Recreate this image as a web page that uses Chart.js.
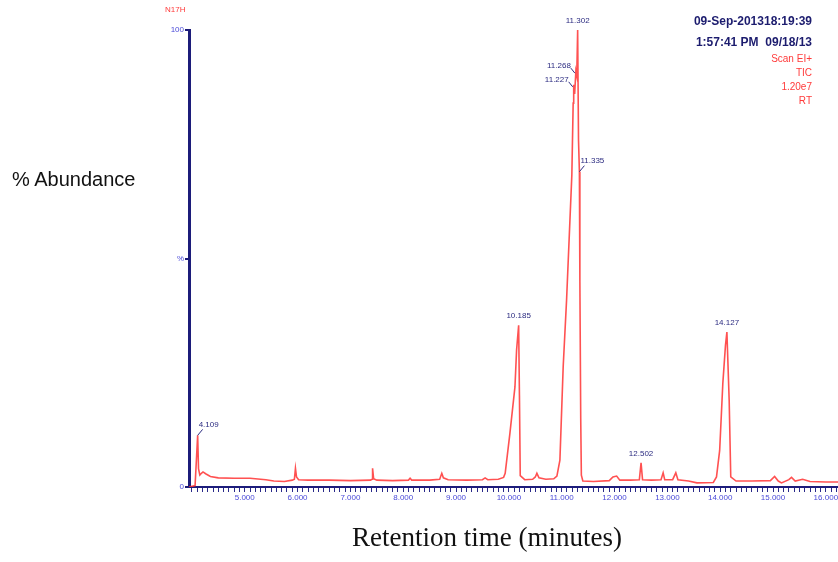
<!DOCTYPE html>
<html>
<head>
<meta charset="utf-8">
<script src="https://cdn.jsdelivr.net/npm/chart.js@4.4.1/dist/chart.umd.min.js"></script>
<style>
  body { margin: 0; background: #fff; }
  #wrap { position: relative; width: 838px; height: 562px; overflow: hidden; font-family: "Liberation Sans", Arial, sans-serif; }
  #wrap canvas { position: absolute; left: 0; top: 0; }
  .t { position: absolute; white-space: nowrap; }
  .hdr { right: 26px; color: #1c1c6e; font-weight: bold; font-size: 12px; }
  .red { right: 26px; color: #ff3a3a; font-size: 10px; }
</style>
</head>
<body>
<div id="wrap">
  <canvas id="myChart" width="838" height="562"></canvas>
  <div class="t" style="left:165px;top:5px;color:#ff3a3a;font-size:8px;">N17H</div>
  <div class="t hdr" style="top:14px;">09-Sep-201318:19:39</div>
  <div class="t hdr" style="top:35px;">1:57:41 PM&nbsp;&nbsp;09/18/13</div>
  <div class="t red" style="top:53px;">Scan EI+</div>
  <div class="t red" style="top:67px;">TIC</div>
  <div class="t red" style="top:81px;">1.20e7</div>
  <div class="t red" style="top:95px;">RT</div>
  <div class="t" style="left:12px;top:168px;font-size:20px;color:#111;">% Abundance</div>
  <div class="t" style="left:352px;top:522px;font-size:27px;color:#111;font-family:'Liberation Serif','Times New Roman',serif;">Retention time (minutes)</div>
</div>
<script>
// Datos del cromatograma (tiempo de retención en minutos, % abundancia)
const tiempos = [
  3.945, 4.06, 4.09, 4.109, 4.125, 4.15, 4.18, 4.21, 4.26, 4.35, 4.5, 4.8, 5.1, 5.4, 5.55, 5.75,
  5.9, 5.94, 5.96, 5.98, 6.02, 6.2, 6.6, 7.0, 7.38, 7.41, 7.42, 7.44, 7.5, 7.8, 8.1, 8.13, 8.16,
  8.5, 8.69, 8.73, 8.76, 8.85, 9.2, 9.5, 9.55, 9.6, 9.8, 9.9, 9.93, 10.02, 10.115, 10.146, 10.185,
  10.2, 10.215, 10.3, 10.45, 10.5, 10.53, 10.57, 10.7, 10.85, 10.909, 10.966, 11.028, 11.092,
  11.192, 11.217, 11.227, 11.245, 11.268, 11.285, 11.302, 11.318, 11.335, 11.344, 11.36, 11.372,
  11.4, 11.6, 11.9, 11.97, 12.04, 12.1, 12.3, 12.47, 12.502, 12.53, 12.7, 12.88, 12.92, 12.95,
  13.1, 13.16, 13.2, 13.4, 13.56, 13.87, 13.93, 13.99, 14.05, 14.1, 14.127, 14.17, 14.2, 14.3,
  14.6, 14.95, 15.03, 15.1, 15.16, 15.3, 15.35, 15.42, 15.56, 15.7, 16.0, 16.23
];
const abundancia = [
  0, 0.3, 7, 11.3, 4, 2.6, 3.0, 3.3, 2.9, 2.3, 2.0, 1.9, 1.9, 1.6, 1.3, 1.2,
  1.5, 1.7, 4.1, 2.2, 1.6, 1.5, 1.5, 1.4, 1.5, 1.7, 4.1, 1.8, 1.5, 1.4, 1.5, 1.9, 1.5,
  1.5, 1.7, 3.0, 2.0, 1.6, 1.5, 1.6, 2.0, 1.6, 1.7, 2.1, 3.0, 11.8, 21.9, 30, 35.4,
  20, 2.5, 1.6, 1.7, 2.2, 3.0, 2.0, 1.7, 1.8, 2.4, 5.9, 26.3, 40.9,
  68.3, 84, 88, 86, 91, 90, 100, 76, 69, 45, 15, 2.6,
  1.3, 1.2, 1.4, 2.2, 2.4, 1.5, 1.5, 1.6, 5.3, 1.6, 1.5, 1.6, 3.1, 1.6,
  1.6, 3.1, 1.6, 1.3, 0.9, 1.0, 2.2, 8, 22.7, 31, 33.9, 19, 2.2, 1.3,
  1.3, 1.4, 2.3, 1.3, 0.9, 1.6, 2.1, 1.3, 1.7, 1.2, 1.1, 1.1
];

// Picos etiquetados
const picos = [4.109, 10.185, 11.302, 11.268, 11.227, 11.335, 12.502, 14.127];

// Ticks
const ticksY = [0, 50, 100];
const ticksX = [];
for (let i = 40; i <= 162; i++) ticksX.push(i / 10);
const etiquetasX = [5, 6, 7, 8, 9, 10, 11, 12, 13, 14, 15, 16];

// Colocación de las etiquetas de los picos
const posicionEtiqueta = ['right', 'top', 'top', 'left', 'left', 'right', 'top', 'top'];

const etiquetasPicos = {
  id: 'etiquetasPicos',
  afterDatasetsDraw(chart) {
    const { ctx, scales: { x, y } } = chart;
    ctx.save();
    ctx.font = '8px "Liberation Sans", Arial, sans-serif';
    ctx.fillStyle = '#2b2b80';
    ctx.strokeStyle = '#2b2b80';
    ctx.lineWidth = 1;
    ctx.textBaseline = 'middle';
    picos.forEach((t, i) => {
      const idx = tiempos.indexOf(t);
      const px = x.getPixelForValue(t);
      const py = y.getPixelForValue(abundancia[idx]);
      const txt = t.toFixed(3);
      const pos = posicionEtiqueta[i];
      if (pos === 'top') {
        ctx.textAlign = 'center';
        ctx.fillText(txt, px, py - 9);
      } else if (pos === 'left') {
        ctx.beginPath();
        ctx.moveTo(px - 1, py + 2);
        ctx.lineTo(px - 5, py - 3);
        ctx.stroke();
        ctx.textAlign = 'right';
        ctx.fillText(txt, px - 5, py - 5);
      } else {
        ctx.beginPath();
        ctx.moveTo(px, py);
        ctx.lineTo(px + 5, py - 6);
        ctx.stroke();
        ctx.textAlign = 'left';
        ctx.fillText(txt, px + 1, py - 11);
      }
    });
    ctx.restore();
  }
};

const ctx = document.getElementById('myChart').getContext('2d');

const myChart = new Chart(ctx, {
  type: 'line',
  data: {
    datasets: [{
      data: tiempos.map((t, i) => ({ x: t, y: abundancia[i] })),
      borderColor: 'rgba(255, 50, 50, 0.85)',
      borderWidth: 1.6,
      pointRadius: 0,
      tension: 0,
      fill: false
    }]
  },
  options: {
    responsive: false,
    animation: false,
    devicePixelRatio: 1,
    layout: { padding: { left: 169, top: 30, right: 0, bottom: 0 } },
    plugins: {
      legend: { display: false },
      tooltip: { enabled: false }
    },
    scales: {
      x: {
        type: 'linear',
        min: 3.945,
        max: 16.23,
        afterBuildTicks: (scale) => { scale.ticks = ticksX.map(v => ({ value: v })); },
        afterFit: (scale) => { scale.height = 75; },
        border: { color: '#1c1c7a', width: 2 },
        grid: { drawOnChartArea: false, tickLength: 5, color: '#2a2a8a', lineWidth: 1 },
        ticks: {
          autoSkip: false,
          maxRotation: 0,
          padding: 1,
          color: '#4a4ad8',
          font: { size: 8, family: '"Liberation Sans", Arial, sans-serif' },
          callback: (v) => (etiquetasX.some(e => Math.abs(v - e) < 1e-6) ? v.toFixed(3) : '')
        }
      },
      y: {
        min: 0,
        max: 100,
        afterBuildTicks: (scale) => { scale.ticks = ticksY.map(v => ({ value: v })); },
        afterFit: (scale) => { scale.width = 20; },
        border: { color: '#1c1c7a', width: 3 },
        grid: { drawOnChartArea: false, tickLength: 4, color: '#1c1c7a', lineWidth: 2 },
        ticks: {
          padding: 1,
          color: '#4a4ad8',
          font: { size: 8, family: '"Liberation Sans", Arial, sans-serif' },
          callback: (v) => (v === 50 ? '%' : v)
        }
      }
    }
  },
  plugins: [etiquetasPicos]
});
</script>
</body>
</html>
